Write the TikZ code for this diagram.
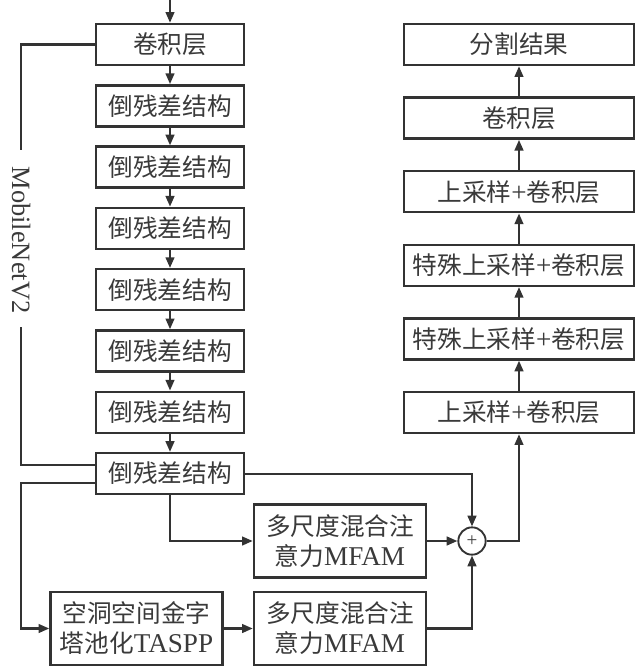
\documentclass[tikz,border=0pt]{standalone}
\usepackage{fontspec}
\setmainfont{Liberation Serif}[Scale=1.1]
\newfontfamily\cjk{Noto Sans CJK SC}
\usetikzlibrary{arrows.meta,calc}
\definecolor{lc}{HTML}{333333}
\definecolor{tc}{HTML}{3A3A3A}
\newcommand\zh[1]{{\cjk #1}}
\tikzset{
  boxbase/.style={draw=lc, line width=1.9pt, inner sep=0pt, text=tc, align=center,
    font=\fontsize{18.5}{22.5}\selectfont},
  lbox/.style={boxbase, minimum width=111pt, minimum height=30.75pt},
  rbox/.style={boxbase, minimum width=172.5pt, minimum height=30.75pt},
  mbox/.style={boxbase, minimum width=129pt, minimum height=54.5pt},
  ln/.style={draw=lc, line width=1.6pt},
  arr/.style={ln, -{Triangle[length=8pt,width=6.5pt]}},
  plusnode/.style={circle, draw=lc, line width=1.4pt, minimum size=20.5pt, inner sep=0pt,
    text=tc, font=\fontsize{13}{13}\selectfont}
}
\begin{document}
\begin{tikzpicture}[x=0.75pt,y=-0.75pt]
\useasboundingbox[fill=white] (0,0) rectangle (636,672);
% left column
\coordinate (top) at (170,0);
\node[lbox] (c1) at (170,44.5) {\zh{卷积层}};
\node[lbox] (L1) at (170,105.8) {\zh{倒残差结构}};
\node[lbox] (L2) at (170,167.1) {\zh{倒残差结构}};
\node[lbox] (L3) at (170,228.4) {\zh{倒残差结构}};
\node[lbox] (L4) at (170,289.7) {\zh{倒残差结构}};
\node[lbox] (L5) at (170,351) {\zh{倒残差结构}};
\node[lbox] (L6) at (170,412.3) {\zh{倒残差结构}};
\node[lbox] (L7) at (170,473.6) {\zh{倒残差结构}};
% right column
\node[rbox] (R1) at (519,44.5) {\zh{分割结果}};
\node[rbox] (R2) at (519,118.1) {\zh{卷积层}};
\node[rbox] (R3) at (519,191.7) {\zh{上采样}+\zh{卷积层}};
\node[rbox] (R4) at (519,265.3) {\zh{特殊上采样}+\zh{卷积层}};
\node[rbox] (R5) at (519,338.9) {\zh{特殊上采样}+\zh{卷积层}};
\node[rbox] (R6) at (519,412.5) {\zh{上采样}+\zh{卷积层}};
% bottom
\node[mbox] (M1) at (340,541) {\zh{多尺度混合注}\\\zh{意力}MFAM};
\node[mbox] (M2) at (340,628.5) {\zh{多尺度混合注}\\\zh{意力}MFAM};
\node[mbox] (T) at (136.5,628.5) {\zh{空洞空间金字}\\\zh{塔池化}TASPP};
\node[plusnode] (P) at (472,541) {+};
% MobileNetV2 bracket
\node[rotate=-90, text=tc, font=\fontsize{18}{18}\selectfont, inner sep=0pt] (mbt) at (21,240) {MobileNetV2};
\coordinate (mbA) at (21,150);
\coordinate (mbB) at (21,327);
\coordinate (lb) at (21,0);
\draw[ln] (c1.west) -| (mbA);
\draw[ln] (mbB) |- ($(L7.west)+(0,-8.6)$);
\draw[arr] ($(L7.west)+(0,9.4)$) -| (lb |- T.west) -- (T.west);
% chain
\draw[arr] (top) -- (c1);
\draw[arr] (c1) -- (L1);
\draw[arr] (L1) -- (L2);
\draw[arr] (L2) -- (L3);
\draw[arr] (L3) -- (L4);
\draw[arr] (L4) -- (L5);
\draw[arr] (L5) -- (L6);
\draw[arr] (L6) -- (L7);
\draw[arr] (L7.east) -| (P.north);
\draw[arr] (L7.south) |- (M1.west);
\draw[arr] (M1) -- (P);
\draw[arr] (T) -- (M2);
\draw[arr] (M2.east) -| (P.south);
\draw[arr] (P.east) -| (R6.south);
\draw[arr] (R6) -- (R5);
\draw[arr] (R5) -- (R4);
\draw[arr] (R4) -- (R3);
\draw[arr] (R3) -- (R2);
\draw[arr] (R2) -- (R1);
\end{tikzpicture}
\end{document}
